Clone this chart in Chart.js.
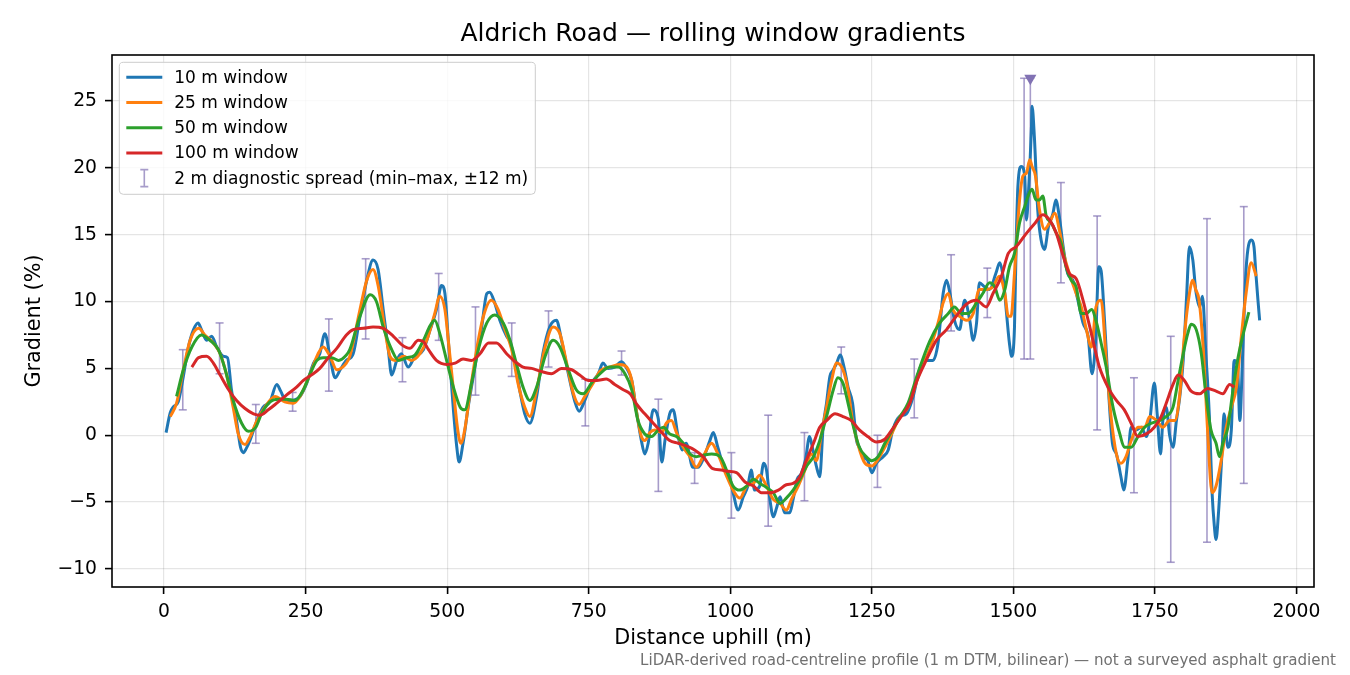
<!DOCTYPE html>
<html>
<head>
<meta charset="utf-8">
<script src="https://cdn.jsdelivr.net/npm/chart.js@4.4.1/dist/chart.umd.min.js"></script>
<style>
  html, body { margin: 0; padding: 0; background: #fff; }
  #wrap { width: 1350px; height: 675px; position: relative; }
</style>
</head>
<body>
<div id="wrap"><canvas id="gradChart"></canvas></div>
<script>
// distance uphill (m), gradient (%) pairs
const win10 = [
  [3.5,0.2],[11,1.7],[16,2.1],[25,2.5],[34,4.4],[43,6.6],[52,7.9],[60,8.4],[66,7.9],[75,7.1],[84,7.4],[93,6.6],
  [105,5.9],[112,5.8],[119,3.4],[127,1.4],[135,-0.9],[140,-1.3],[145,-1.0],[152,-0.35],[164,1.1],[175,2.1],[187,2.5],
  [199,3.8],[206,3.3],[216,2.5],[228,2.6],[240,2.9],[252,3.9],[264,5.4],[275,6.1],[284,7.6],[293,5.9],[302,4.3],
  [311,4.9],[322,5.6],[334,6.1],[346,8.9],[358,11.6],[369,13.1],[378,12.4],[387,9.4],[396,6.4],[402,4.5],[411,5.6],
  [419,6.1],[431,5.1],[443,5.9],[458,6.4],[470,7.9],[481,9.4],[490,11.2],[496,10.6],[502,7.1],[511,1.9],[517,-0.9],
  [521,-2.0],[528,-0.6],[537,2.1],[549,5.1],[561,8.1],[570,10.6],[575,10.7],[584,9.9],[593,8.6],[605,7.4],[611,7.0],
  [620,5.4],[628,3.4],[637,1.6],[646,0.9],[658,2.9],[669,6.1],[681,8.1],[693,8.6],[702,7.1],[714,4.6],[725,2.6],
  [733,1.8],[743,2.6],[755,3.9],[767,4.6],[775,5.4],[784,5.0],[796,5.1],[808,5.5],[817,5.0],[826,4.1],[835,1.6],
  [843,-0.4],[849,-1.4],[855,-0.6],[864,1.9],[873,1.2],[879,-2.0],[885,-0.3],[893,1.6],[899,1.9],[908,-0.1],
  [915,-1.1],[922,-0.6],[934,-2.4],[943,-2.4],[952,-1.8],[964,-0.4],[970,0.2],[978,-0.9],[990,-2.6],[998,-3.0],
  [1005,-4.3],[1014,-5.6],[1023,-4.6],[1031,-3.8],[1037,-2.6],[1043,-4.1],[1052,-3.8],[1059,-2.1],[1064,-2.6],
  [1070,-4.8],[1076,-6.1],[1082,-5.4],[1088,-4.6],[1096,-5.8],[1105,-5.8],[1111,-4.8],[1118,-3.3],[1125,-2.9],
  [1133,-1.8],[1140,-0.1],[1145,-0.9],[1152,-2.3],[1158,-3.1],[1164,0.6],[1170,2.4],[1176,4.4],[1182,4.9],[1188,5.4],
  [1194,6.0],[1202,4.9],[1208,3.6],[1216,2.4],[1223,-0.4],[1228,-0.9],[1234,-1.6],[1243,-1.9],[1250,-2.8],[1258,-2.1],
  [1270,-1.6],[1279,-1.1],[1287,0.4],[1299,1.4],[1311,1.6],[1323,2.9],[1334,4.9],[1343,5.6],[1358,5.6],[1367,6.9],
  [1376,10.6],[1382,11.6],[1388,10.6],[1396,8.6],[1405,7.9],[1414,10.1],[1423,8.6],[1429,7.1],[1435,8.4],[1440,11.4],
  [1449,11.1],[1458,10.9],[1469,12.1],[1476,12.9],[1482,11.8],[1488,9.1],[1493,6.9],[1497,5.9],[1502,8.1],[1505,14.4],
  [1508,18.6],[1514,20.1],[1520,19.4],[1523,16.1],[1527,18.4],[1532,23.1],[1533,24.6],[1537,22.4],[1543,16.9],
  [1549,14.6],[1555,13.9],[1562,15.6],[1570,16.6],[1575,17.6],[1581,16.4],[1588,14.1],[1596,12.1],[1605,11.6],
  [1614,10.1],[1623,8.4],[1632,7.4],[1639,4.6],[1645,6.9],[1651,12.6],[1655,12.3],[1661,8.6],[1667,4.1],[1675,-0.6],
  [1682,-1.4],[1690,-3.1],[1695,-4.1],[1702,-1.9],[1708,0.6],[1717,0.4],[1726,0.6],[1735,-0.1],[1741,1.1],[1749,3.9],
  [1754,1.6],[1760,-1.4],[1764,1.1],[1770,2.1],[1776,0.0],[1782,-0.9],[1788,1.1],[1794,2.9],[1800,5.6],[1806,10.4],
  [1811,14.1],[1817,13.1],[1822,10.9],[1829,9.6],[1834,10.4],[1840,6.1],[1846,1.6],[1851,-4.3],[1855,-6.8],
  [1858,-7.8],[1862,-6.0],[1869,-0.9],[1872,1.6],[1879,-0.9],[1885,0.4],[1890,5.6],[1896,5.1],[1900,1.1],[1905,6.1],
  [1911,12.4],[1920,14.6],[1925,14.1],[1928,12.3],[1932,10.1],[1935,8.6]
];
const win25 = [
  [11,1.4],[22,2.4],[34,4.9],[46,7.1],[61,8.0],[72,7.5],[87,6.9],[99,6.1],[111,4.4],[122,2.1],[131,0.1],[143,-0.7],
  [152,-0.1],[164,1.1],[178,2.1],[196,2.9],[213,2.5],[228,2.4],[240,2.9],[258,4.6],[272,6.1],[281,6.6],[293,5.9],
  [305,4.9],[322,5.4],[328,5.9],[346,9.4],[358,11.6],[369,12.4],[378,11.2],[390,7.9],[399,5.9],[408,5.6],[423,5.9],
  [437,5.6],[452,6.1],[464,7.1],[478,9.1],[487,10.4],[496,9.4],[502,7.1],[511,3.4],[518,0.6],[524,-0.6],[531,0.4],
  [540,3.1],[552,6.4],[564,8.9],[578,10.1],[590,9.4],[602,7.9],[614,6.4],[625,3.9],[637,2.1],[646,1.4],[658,3.4],
  [673,6.6],[687,8.1],[699,7.6],[711,5.4],[723,3.1],[733,2.3],[743,2.9],[758,3.9],[770,4.8],[787,5.1],[805,5.3],
  [817,5.1],[826,4.1],[835,1.6],[843,-0.1],[849,-0.4],[858,0.2],[867,0.4],[879,0.2],[887,0.9],[896,1.1],[905,0.2],
  [917,-0.9],[929,-1.6],[940,-2.4],[952,-1.6],[967,-0.6],[978,-1.4],[993,-3.0],[1005,-4.1],[1017,-4.7],[1029,-3.8],
  [1041,-3.6],[1052,-3.0],[1064,-3.8],[1076,-4.8],[1088,-5.1],[1099,-5.6],[1108,-4.8],[1120,-3.8],[1132,-2.6],
  [1143,-1.4],[1152,-1.9],[1161,0.1],[1170,2.1],[1179,4.1],[1188,5.4],[1199,4.9],[1208,3.4],[1216,1.1],[1225,-0.6],
  [1238,-2.1],[1250,-2.3],[1261,-1.8],[1273,-0.9],[1285,0.1],[1300,1.4],[1314,2.1],[1329,4.0],[1340,5.3],[1352,6.4],
  [1367,8.4],[1376,9.9],[1385,10.6],[1393,9.4],[1405,8.9],[1417,8.6],[1429,9.1],[1440,10.9],[1452,10.9],[1464,11.1],
  [1475,11.9],[1485,10.6],[1491,8.9],[1496,8.9],[1502,12.1],[1511,17.6],[1517,19.4],[1523,19.6],[1529,20.6],
  [1533,20.1],[1539,19.4],[1546,16.9],[1555,15.4],[1564,15.9],[1573,16.6],[1582,15.2],[1590,13.4],[1599,12.1],
  [1611,10.6],[1620,9.6],[1629,7.9],[1638,6.6],[1646,9.6],[1655,10.1],[1664,5.6],[1672,1.6],[1682,-1.4],[1690,-2.1],
  [1699,-1.6],[1708,-0.4],[1720,0.6],[1732,0.6],[1741,1.4],[1753,1.1],[1764,0.6],[1776,1.1],[1785,1.1],[1794,3.1],
  [1802,7.4],[1811,10.6],[1817,11.6],[1822,10.9],[1828,10.1],[1836,6.1],[1843,0.4],[1851,-4.3],[1858,-3.8],
  [1867,-1.9],[1876,0.6],[1885,2.1],[1894,3.6],[1902,7.1],[1911,10.6],[1920,12.9],[1929,11.9]
];
const win50 = [
  [22,2.9],[34,4.9],[49,6.6],[66,7.5],[81,7.1],[96,6.4],[108,4.9],[122,2.6],[137,0.9],[149,0.3],[162,0.6],[172,1.6],
  [187,2.5],[202,2.7],[216,2.7],[231,2.6],[246,3.4],[258,4.6],[270,5.6],[281,5.8],[296,5.8],[308,5.6],[322,6.0],
  [328,6.4],[346,8.9],[364,10.5],[375,10.0],[387,8.1],[402,6.4],[414,5.6],[428,5.8],[443,6.0],[458,7.1],[470,8.2],
  [478,8.6],[487,7.6],[499,5.6],[511,3.6],[523,2.1],[531,1.9],[543,3.9],[555,6.4],[570,8.4],[584,9.0],[599,8.4],
  [611,7.1],[622,5.4],[634,3.6],[646,2.6],[658,3.6],[673,5.9],[687,7.1],[699,6.6],[714,4.9],[728,3.4],[740,3.1],
  [755,3.9],[770,4.6],[787,5.1],[802,5.1],[814,4.6],[826,3.4],[837,1.1],[849,0.1],[861,-0.1],[873,0.4],[882,0.6],
  [893,0.1],[905,-0.1],[917,-0.6],[929,-1.4],[940,-1.6],[952,-1.5],[967,-1.4],[982,-1.6],[996,-2.9],[1005,-3.8],
  [1017,-4.1],[1029,-3.8],[1041,-3.3],[1052,-3.6],[1064,-3.9],[1076,-4.3],[1088,-5.1],[1099,-4.7],[1111,-4.1],
  [1123,-3.3],[1135,-2.3],[1147,-1.6],[1158,-0.4],[1170,1.4],[1182,3.4],[1190,4.3],[1199,3.9],[1208,2.4],[1216,0.9],
  [1228,-0.9],[1240,-1.6],[1250,-1.9],[1261,-1.6],[1273,-0.6],[1285,0.3],[1300,1.4],[1314,2.4],[1331,4.6],[1352,7.0],
  [1370,8.4],[1385,9.1],[1396,9.6],[1408,9.1],[1420,9.1],[1435,9.9],[1446,10.6],[1458,11.4],[1467,11.1],[1476,10.1],
  [1485,10.9],[1493,12.6],[1502,13.6],[1511,15.9],[1520,17.1],[1528,18.1],[1533,18.4],[1540,17.6],[1546,17.6],
  [1552,17.9],[1558,16.4],[1567,15.9],[1576,15.1],[1585,14.3],[1593,12.6],[1602,11.6],[1611,11.1],[1620,9.1],
  [1629,9.1],[1638,9.4],[1647,8.4],[1655,6.9],[1664,5.1],[1676,2.1],[1688,0.1],[1696,-0.9],[1708,-0.9],[1720,-0.1],
  [1732,0.6],[1744,0.9],[1758,1.1],[1770,1.4],[1782,2.1],[1791,4.1],[1800,6.1],[1808,7.6],[1814,8.3],[1823,7.9],
  [1832,6.1],[1840,3.1],[1849,0.4],[1858,-0.6],[1864,-1.6],[1870,-0.6],[1879,0.6],[1887,3.1],[1896,5.6],[1905,7.4],
  [1916,9.2]
];
const win100 = [
  [49,5.1],[61,5.8],[75,5.9],[87,5.4],[99,4.5],[114,3.4],[128,2.6],[143,2.0],[158,1.6],[169,1.5],[184,1.9],[199,2.4],
  [216,3.0],[234,3.6],[246,4.1],[260,4.5],[275,5.0],[290,5.8],[305,6.5],[322,7.5],[334,7.9],[352,8.0],[369,8.1],
  [387,8.0],[405,7.4],[419,6.8],[434,6.5],[449,7.1],[458,7.0],[467,6.4],[481,5.6],[499,5.3],[514,5.4],[528,5.7],
  [543,5.6],[558,6.1],[573,6.9],[587,6.9],[605,6.1],[620,5.5],[634,5.1],[649,5.0],[664,4.8],[684,4.6],[702,5.0],
  [720,4.9],[734,4.5],[749,4.1],[764,4.1],[781,4.2],[796,3.8],[811,3.4],[823,3.1],[835,2.3],[849,1.6],[864,0.9],
  [879,0.2],[893,-0.4],[908,-0.6],[922,-0.8],[937,-1.1],[952,-1.6],[969,-2.5],[984,-2.6],[996,-2.7],[1011,-2.8],
  [1026,-3.5],[1041,-3.8],[1055,-4.3],[1070,-4.3],[1085,-4.1],[1099,-3.7],[1111,-3.6],[1123,-3.1],[1135,-1.8],
  [1147,-0.6],[1158,0.6],[1170,1.1],[1185,1.6],[1199,1.4],[1214,1.1],[1228,0.4],[1243,-0.1],[1258,-0.5],[1273,-0.3],
  [1287,0.5],[1302,1.4],[1317,2.4],[1329,4.0],[1346,5.6],[1364,7.1],[1382,7.9],[1399,8.9],[1417,9.8],[1435,10.1],
  [1452,9.6],[1464,10.6],[1479,11.9],[1491,13.6],[1505,14.1],[1523,15.1],[1537,15.8],[1552,16.5],[1564,16.1],
  [1576,15.1],[1588,13.4],[1599,12.1],[1611,11.7],[1623,10.1],[1635,8.1],[1646,6.1],[1652,5.1],[1667,3.6],[1682,2.6],
  [1696,1.9],[1708,0.9],[1720,-0.1],[1735,0.1],[1749,0.6],[1761,1.4],[1770,2.4],[1782,3.8],[1791,4.5],[1802,4.1],
  [1814,3.3],[1829,3.1],[1843,3.5],[1858,3.3],[1870,3.1],[1882,3.8],[1890,3.6]
];
// 2 m diagnostic spread: [distance, min, max]
const spread2 = [
  [33,1.9,6.4],[98,4.6,8.4],[162,-0.6,2.3],[227,1.8,3.2],[291,3.3,8.7],[356,7.2,13.2],[421,4.0,7.3],[485,7.1,12.1],
  [550,3.0,9.6],[614,4.4,8.4],[679,5.1,9.3],[744,0.7,4.2],[808,4.5,6.3],[873,-4.2,2.7],[937,-3.6,-1.3],
  [1002,-6.2,-1.3],[1067,-6.8,1.5],[1131,-4.9,0.2],[1196,3.1,6.6],[1260,-3.9,0.0],[1325,1.3,5.7],[1390,7.8,13.5],
  [1454,8.8,12.5],[1519,5.7,26.7],[1530,5.7,26.7],[1584,11.4,18.9],[1648,0.4,16.4],[1713,-4.3,4.3],[1778,-9.5,7.4],
  [1842,-8.0,16.2],[1907,-3.6,17.1]
];
const steepest = [[1530, 26.7]];

const seriesLabels = ['10 m window', '25 m window', '50 m window', '100 m window',
  '2 m diagnostic spread (min\u2013max, \u00b112 m)'];
const seriesColors = ['#1f77b4', '#ff7f0e', '#2ca02c', '#d62728'];
const spreadColor = 'rgba(129,114,179,0.7)';
const markerColor = '#8172b3';
const footNote = 'LiDAR-derived road-centreline profile (1 m DTM, bilinear) \u2014 not a surveyed asphalt gradient';

const FONT = '"DejaVu Sans", "Liberation Sans", sans-serif';
const LW = 3;

function toPoints(arr) {
  return arr.map(p => ({ x: p[0], y: p[1] }));
}
// each bar: bottom, top, gap
const spreadPoints = [];
spread2.forEach(s => {
  spreadPoints.push({ x: s[0], y: s[1] }, { x: s[0], y: s[2] }, { x: s[0], y: null });
});

function lineSet(i, data, order) {
  return {
    label: seriesLabels[i],
    data: toPoints(data),
    borderColor: seriesColors[i],
    backgroundColor: seriesColors[i],
    borderWidth: LW,
    pointRadius: 0,
    cubicInterpolationMode: 'monotone',
    order: order
  };
}

const extras = {
  id: 'extras',
  afterDatasetsDraw(chart) {
    const { ctx, chartArea: a } = chart;
    ctx.save();
    // axes frame
    ctx.strokeStyle = '#000';
    ctx.lineWidth = 1.6;
    ctx.strokeRect(a.left, a.top, a.right - a.left, a.bottom - a.top);

    // legend box, upper left inside the axes
    const bx = a.left + 7.3, by = a.top + 7.3, bw = 416, bh = 132;
    ctx.beginPath();
    ctx.roundRect(bx, by, bw, bh, 4);
    ctx.fillStyle = 'rgba(255,255,255,0.8)';
    ctx.fill();
    ctx.strokeStyle = '#cccccc';
    ctx.lineWidth = 1;
    ctx.stroke();

    ctx.font = '17px ' + FONT;
    ctx.textBaseline = 'middle';
    ctx.textAlign = 'left';
    for (let i = 0; i < 5; i++) {
      const ry = by + 15 + i * 25.2;
      if (i < 4) {
        ctx.strokeStyle = seriesColors[i];
        ctx.lineWidth = LW;
        ctx.beginPath();
        ctx.moveTo(bx + 7, ry);
        ctx.lineTo(bx + 43, ry);
        ctx.stroke();
      } else {
        ctx.strokeStyle = spreadColor;
        ctx.lineWidth = 1.6;
        ctx.beginPath();
        ctx.moveTo(bx + 25, ry - 8.5); ctx.lineTo(bx + 25, ry + 8.5);
        ctx.moveTo(bx + 21, ry - 8.5); ctx.lineTo(bx + 29, ry - 8.5);
        ctx.moveTo(bx + 21, ry + 8.5); ctx.lineTo(bx + 29, ry + 8.5);
        ctx.stroke();
      }
      ctx.fillStyle = '#000';
      ctx.fillText(seriesLabels[i], bx + 55, ry + 1);
    }

    // footnote
    ctx.font = '15.1px ' + FONT;
    ctx.fillStyle = '#707070';
    ctx.textAlign = 'right';
    ctx.fillText(footNote, 1336, 661);
    ctx.restore();
  }
};

const minusFmt = v => (v < 0 ? '\u2212' + Math.abs(v) : String(v));

new Chart(document.getElementById('gradChart').getContext('2d'), {
  type: 'line',
  data: {
    datasets: [
      lineSet(3, win100, 1),
      lineSet(2, win50, 2),
      lineSet(1, win25, 3),
      lineSet(0, win10, 4),
      {
        label: seriesLabels[4],
        data: spreadPoints,
        borderColor: spreadColor,
        borderWidth: 1.6,
        tension: 0,
        spanGaps: false,
        pointStyle: 'line',
        pointRadius: 4,
        pointBorderWidth: 1.6,
        pointBorderColor: spreadColor,
        order: 6
      },
      {
        label: 'steepest',
        data: toPoints(steepest),
        showLine: false,
        pointStyle: 'triangle',
        rotation: 180,
        pointRadius: 7,
        pointBackgroundColor: markerColor,
        pointBorderColor: markerColor,
        pointBorderWidth: 0,
        order: 0
      }
    ]
  },
  options: {
    responsive: true,
    maintainAspectRatio: false,
    animation: false,
    layout: { padding: { left: 0, right: 36, top: 0, bottom: 0 } },
    plugins: {
      legend: { display: false },
      tooltip: { enabled: false },
      title: {
        display: true,
        fullSize: false,
        text: 'Aldrich Road \u2014 rolling window gradients',
        color: '#000',
        font: { family: FONT, size: 25, weight: 'normal' },
        padding: { top: 19, bottom: 6 }
      }
    },
    scales: {
      x: {
        type: 'linear',
        min: -92,
        max: 2031,
        afterFit: s => { s.height = 88; },
        border: { display: false },
        grid: { color: 'rgba(0,0,0,0.1)', lineWidth: 1.2, tickColor: '#000', tickWidth: 1.6, tickLength: 7 },
        ticks: {
          stepSize: 250,
          includeBounds: false,
          padding: 7,
          maxRotation: 0,
          color: '#000',
          font: { family: FONT, size: 18.75 },
          callback: minusFmt
        },
        title: {
          display: true,
          text: 'Distance uphill (m)',
          color: '#000',
          font: { family: FONT, size: 20.8 },
          padding: { top: 0, bottom: 24 }
        }
      },
      y: {
        min: -11.35,
        max: 28.44,
        afterFit: s => { s.width = 112; },
        border: { display: false },
        grid: { color: 'rgba(0,0,0,0.1)', lineWidth: 1.2, tickColor: '#000', tickWidth: 1.6, tickLength: 7 },
        ticks: {
          stepSize: 5,
          includeBounds: false,
          padding: 8,
          color: '#000',
          font: { family: FONT, size: 18.75 },
          callback: minusFmt
        },
        title: {
          display: true,
          text: 'Gradient (%)',
          color: '#000',
          font: { family: FONT, size: 20.8 },
          padding: { top: 22.5, bottom: 0 }
        }
      }
    }
  },
  plugins: [extras]
});
</script>
</body>
</html>
